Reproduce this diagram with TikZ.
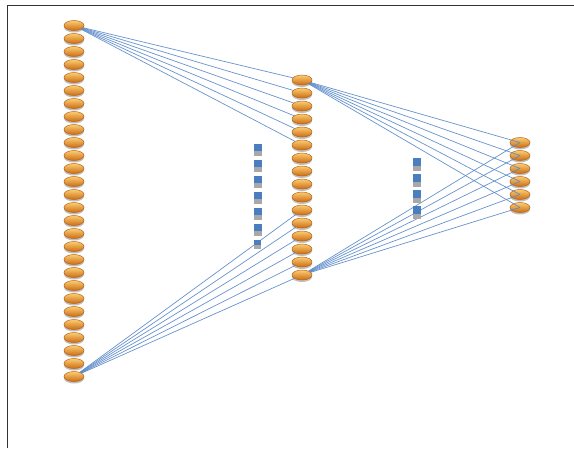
\documentclass[tikz,border=0pt]{standalone}
\usetikzlibrary{shapes.geometric,shadows}
\definecolor{oLight}{RGB}{250,205,115}
\definecolor{oMid}{RGB}{240,152,42}
\definecolor{oDark}{RGB}{205,108,18}
\definecolor{oEdge}{RGB}{185,98,20}
\definecolor{wire}{RGB}{88,136,200}
\definecolor{dotblue}{RGB}{74,126,190}
\definecolor{dotgrey}{RGB}{168,168,168}
\tikzset{
  neuron/.style={ellipse, minimum width=20pt, minimum height=10pt, inner sep=0pt,
    top color=oLight, middle color=oMid, bottom color=oDark, draw=oEdge, line width=0.5pt,
    drop shadow={shadow xshift=0pt, shadow yshift=-2pt, opacity=0.25, fill=black}},
  wirestyle/.style={draw=wire, line width=0.7pt, opacity=0.9},
  frameline/.style={draw=black!80, line width=1pt}
}
\begin{document}
\begin{tikzpicture}[x=1pt,y=-1pt]
\useasboundingbox (0,0) rectangle (574,448);
\fill[white] (0,0) rectangle (574,448);
\draw[frameline] (7.5,448) -- (7.5,5.5) -- (574,5.5);
% layers
\foreach \i in {1,...,28} \node[neuron] (a\i) at (74,{25.5+13*(\i-1)}) {};
\foreach \i in {1,...,16} \node[neuron] (b\i) at (302,{80+13*(\i-1)}) {};
\foreach \i in {1,...,6} \node[neuron] (c\i) at (520,{142.5+13*(\i-1)}) {};
% connectors layer 1 -> 2
\foreach \k in {1,...,6} \draw[wirestyle] (a1) -- (b\k);
\foreach \k in {11,...,16} \draw[wirestyle] (a28) -- (b\k);
% connectors layer 2 -> 3
\foreach \k in {1,...,6} {
  \draw[wirestyle] (b1) -- (c\k.center);
  \draw[wirestyle] (b16) -- (c\k.center);
}
% vertical dotted markers
\foreach \j in {0,...,5} {
  \fill[dotgrey] (254,{149+16*\j}) rectangle (262,{156+16*\j});
  \fill[dotblue] (254,{144+16*\j}) rectangle (262,{151+16*\j});
}
\fill[dotgrey] (254,244) rectangle (261,249);
\fill[dotblue] (254,240) rectangle (261,245);
\foreach \j in {0,...,3} {
  \fill[dotgrey] (413,{164+16*\j}) rectangle (421,{171+16*\j});
  \fill[dotblue] (413,{158+16*\j}) rectangle (421,{166+16*\j});
}
\end{tikzpicture}
\end{document}
